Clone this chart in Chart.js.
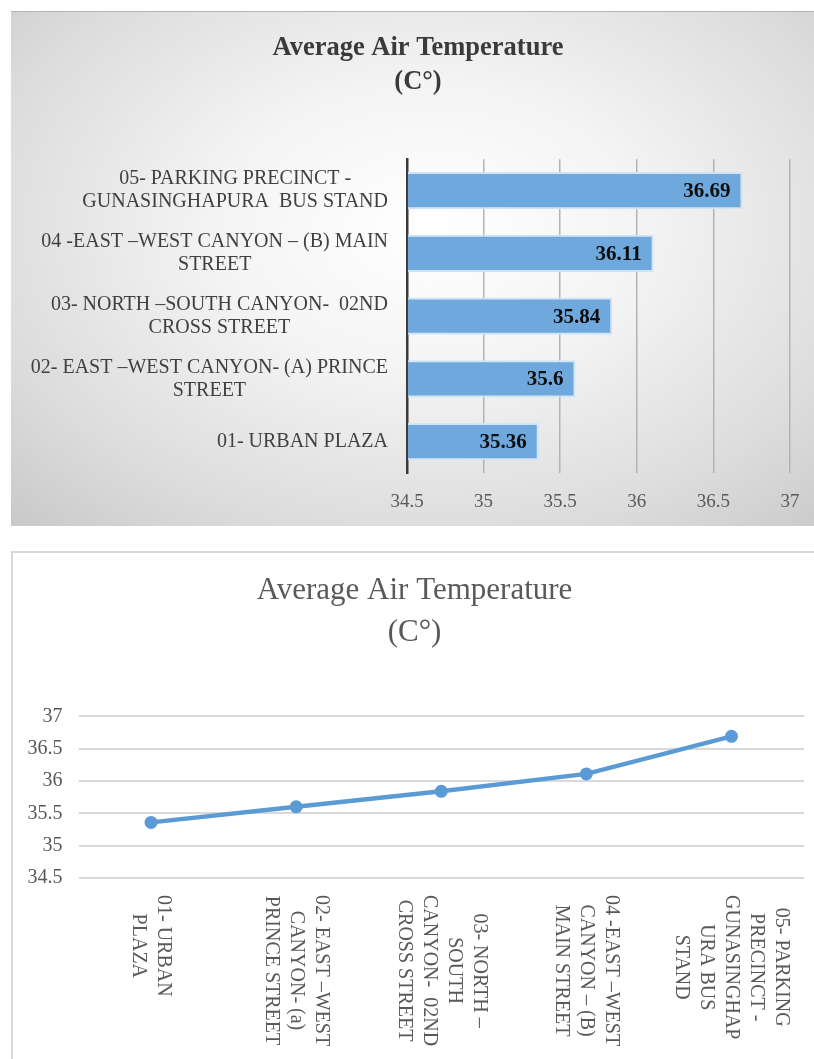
<!DOCTYPE html>
<html>
<head>
<meta charset="utf-8">
<script src="https://cdn.jsdelivr.net/npm/chart.js@4.4.1/dist/chart.umd.min.js"></script>
<style>
  body { margin: 0; background: #fff; width: 814px; height: 1059px; overflow: hidden; position: relative; }
  #barBox {
    position: absolute; left: 11px; top: 11px; width: 803px; height: 514px;
    border-top: 1px solid #b5b5b5;
    background: radial-gradient(ellipse 75% 80% at 52% 42%, #ffffff 0%, #f4f4f4 35%, #dcdcdc 75%, #c9c9c9 100%);
  }
  #lineBox {
    position: absolute; left: 11px; top: 551px; width: 803px; height: 508px;
    border-left: 2px solid #d9d9d9; border-top: 2px solid #d9d9d9; background: #fff;
  }
  canvas { display: block; }
</style>
</head>
<body>
<div id="barBox"><canvas id="barChart" width="803" height="514"></canvas></div>
<div id="lineBox"><canvas id="lineChart" width="801" height="506"></canvas></div>
<script>
/* Temperatura media del aire por sitio — barras horizontales y línea */
const SERIF = "'Liberation Serif', 'Times New Roman', serif";

const sitios = ['01', '02', '03', '04', '05'];
const tempMedia = [35.36, 35.6, 35.84, 36.11, 36.69];

// etiquetas tal como aparecen partidas en cada gráfico
const etiquetasBarra = [
  ['01- URBAN PLAZA'],
  ['02- EAST \u2013WEST CANYON- (A) PRINCE', 'STREET'],
  ['03- NORTH \u2013SOUTH CANYON-  02ND', 'CROSS STREET'],
  ['04 -EAST \u2013WEST CANYON \u2013 (B) MAIN', 'STREET'],
  ['05- PARKING PRECINCT -', 'GUNASINGHAPURA  BUS STAND'],
];
const etiquetasLinea = [
  ['01- URBAN', 'PLAZA'],
  ['02- EAST \u2013WEST', 'CANYON- (a)', 'PRINCE STREET'],
  ['03- NORTH \u2013', 'SOUTH', 'CANYON-  02ND', 'CROSS STREET'],
  ['04 -EAST \u2013WEST', 'CANYON \u2013 (B)', 'MAIN STREET'],
  ['05- PARKING', 'PRECINCT -', 'GUNASINGHAP', 'URA BUS', 'STAND'],
];
const tituloLineas = ['Average Air Temperature', '(C\u00b0)'];
const ejeMin = 34.5, ejeMax = 37, ejePaso = 0.5;

const fmtTick = v => String(Math.round(v * 10) / 10);

// etiquetas de categoría del gráfico de barras: bloque alineado a la derecha, líneas centradas
const yLabelsPlugin = {
  id: 'yLabels',
  afterDraw(chart) {
    const ctx = chart.ctx, sc = chart.scales.y;
    const right = sc.right - 19, lh = 23;
    ctx.save();
    ctx.font = '20px ' + SERIF;
    ctx.fillStyle = '#404040';
    ctx.textAlign = 'center';
    ctx.textBaseline = 'middle';
    etiquetasBarra.forEach((lines, i) => {
      const y = sc.getPixelForTick(i);
      const wMax = Math.max(...lines.map(l => ctx.measureText(l).width));
      const cx = right - wMax / 2;
      lines.forEach((l, k) => {
        ctx.fillText(l, cx, y + (k - (lines.length - 1) / 2) * lh);
      });
    });
    ctx.restore();
  },
};

// valores dentro del extremo de cada barra
const valueLabelsPlugin = {
  id: 'valueLabels',
  afterDatasetsDraw(chart) {
    const ctx = chart.ctx;
    const meta = chart.getDatasetMeta(0);
    ctx.save();
    ctx.font = 'bold 21px ' + SERIF;
    ctx.fillStyle = '#0d0d0d';
    ctx.textAlign = 'right';
    ctx.textBaseline = 'middle';
    meta.data.forEach((bar, i) => {
      ctx.fillText(String(tempMedia[i]), bar.x - 12, bar.y + 1);
    });
    ctx.restore();
  },
};

// etiquetas del eje x de la línea: giradas 90° en sentido horario, líneas centradas
const xLabelsPlugin = {
  id: 'xLabels',
  afterDraw(chart) {
    const ctx = chart.ctx, sc = chart.scales.x;
    const top = chart.chartArea.bottom + 17, lh = 25;
    ctx.save();
    ctx.font = '20px ' + SERIF;
    ctx.fillStyle = '#595959';
    ctx.textAlign = 'center';
    ctx.textBaseline = 'middle';
    etiquetasLinea.forEach((lines, i) => {
      const x = sc.getPixelForTick(i);
      const wMax = Math.max(...lines.map(l => ctx.measureText(l).width));
      ctx.save();
      ctx.translate(x, top + wMax / 2);
      ctx.rotate(Math.PI / 2);
      lines.forEach((l, k) => {
        ctx.fillText(l, 0, (k - (lines.length - 1) / 2) * lh);
      });
      ctx.restore();
    });
    ctx.restore();
  },
};

new Chart(document.getElementById('barChart'), {
  type: 'bar',
  data: {
    labels: sitios,
    datasets: [{
      data: tempMedia,
      base: ejeMin,
      backgroundColor: '#6fa8dc',
      borderColor: '#cfe4f6',
      borderWidth: 2,
      borderSkipped: 'left',
      categoryPercentage: 1,
      barPercentage: 0.59,
    }],
  },
  options: {
    indexAxis: 'y',
    responsive: false,
    animation: false,
    layout: { padding: { left: 35, right: 24, top: 0, bottom: 12 } },
    plugins: {
      legend: { display: false },
      tooltip: { enabled: false },
      title: {
        display: true,
        text: tituloLineas,
        color: '#3a3a3a',
        font: { family: SERIF, size: 26.5, weight: 'bold', lineHeight: 1.25 },
        padding: { top: 20, bottom: 61 },
      },
    },
    scales: {
      x: {
        min: ejeMin, max: ejeMax,
        ticks: { stepSize: ejePaso, callback: fmtTick, color: '#595959', font: { family: SERIF, size: 19 }, padding: 18 },
        grid: { color: '#b3b3b3', lineWidth: 1.5, drawTicks: false },
        border: { display: false },
        afterFit: s => { s.height = 41; s.paddingLeft = 0; s.paddingRight = 0; },
      },
      y: {
        reverse: true,
        ticks: { display: false },
        grid: { display: false, drawTicks: false },
        border: { display: true, color: '#3a3a3a', width: 2.5 },
        afterFit: s => { s.width = 361; },
      },
    },
  },
  plugins: [yLabelsPlugin, valueLabelsPlugin],
});

new Chart(document.getElementById('lineChart'), {
  type: 'line',
  data: {
    labels: sitios,
    datasets: [{
      data: tempMedia,
      borderColor: '#5b9bd5',
      backgroundColor: '#5b9bd5',
      borderWidth: 4.5,
      pointRadius: 6.5,
      pointBorderWidth: 0,
      tension: 0,
    }],
  },
  options: {
    responsive: false,
    animation: false,
    layout: { padding: { left: 12, right: 10, top: 0, bottom: 181 } },
    plugins: {
      legend: { display: false },
      tooltip: { enabled: false },
      title: {
        display: true,
        text: tituloLineas,
        color: '#595959',
        font: { family: SERIF, size: 31, weight: 'normal', lineHeight: 1.36 },
        padding: { top: 17, bottom: 62 },
      },
    },
    scales: {
      x: {
        offset: true,
        ticks: { display: false },
        grid: { display: false, drawTicks: false },
        border: { display: false },
      },
      y: {
        min: ejeMin, max: ejeMax,
        ticks: { stepSize: ejePaso, callback: fmtTick, color: '#595959', font: { family: SERIF, size: 20 }, padding: 16 },
        grid: { color: '#d9d9d9', lineWidth: 2, drawTicks: false },
        border: { display: false },
        afterFit: s => { s.width = 53.5; },
      },
    },
  },
  plugins: [xLabelsPlugin],
});
</script>
</body>
</html>
